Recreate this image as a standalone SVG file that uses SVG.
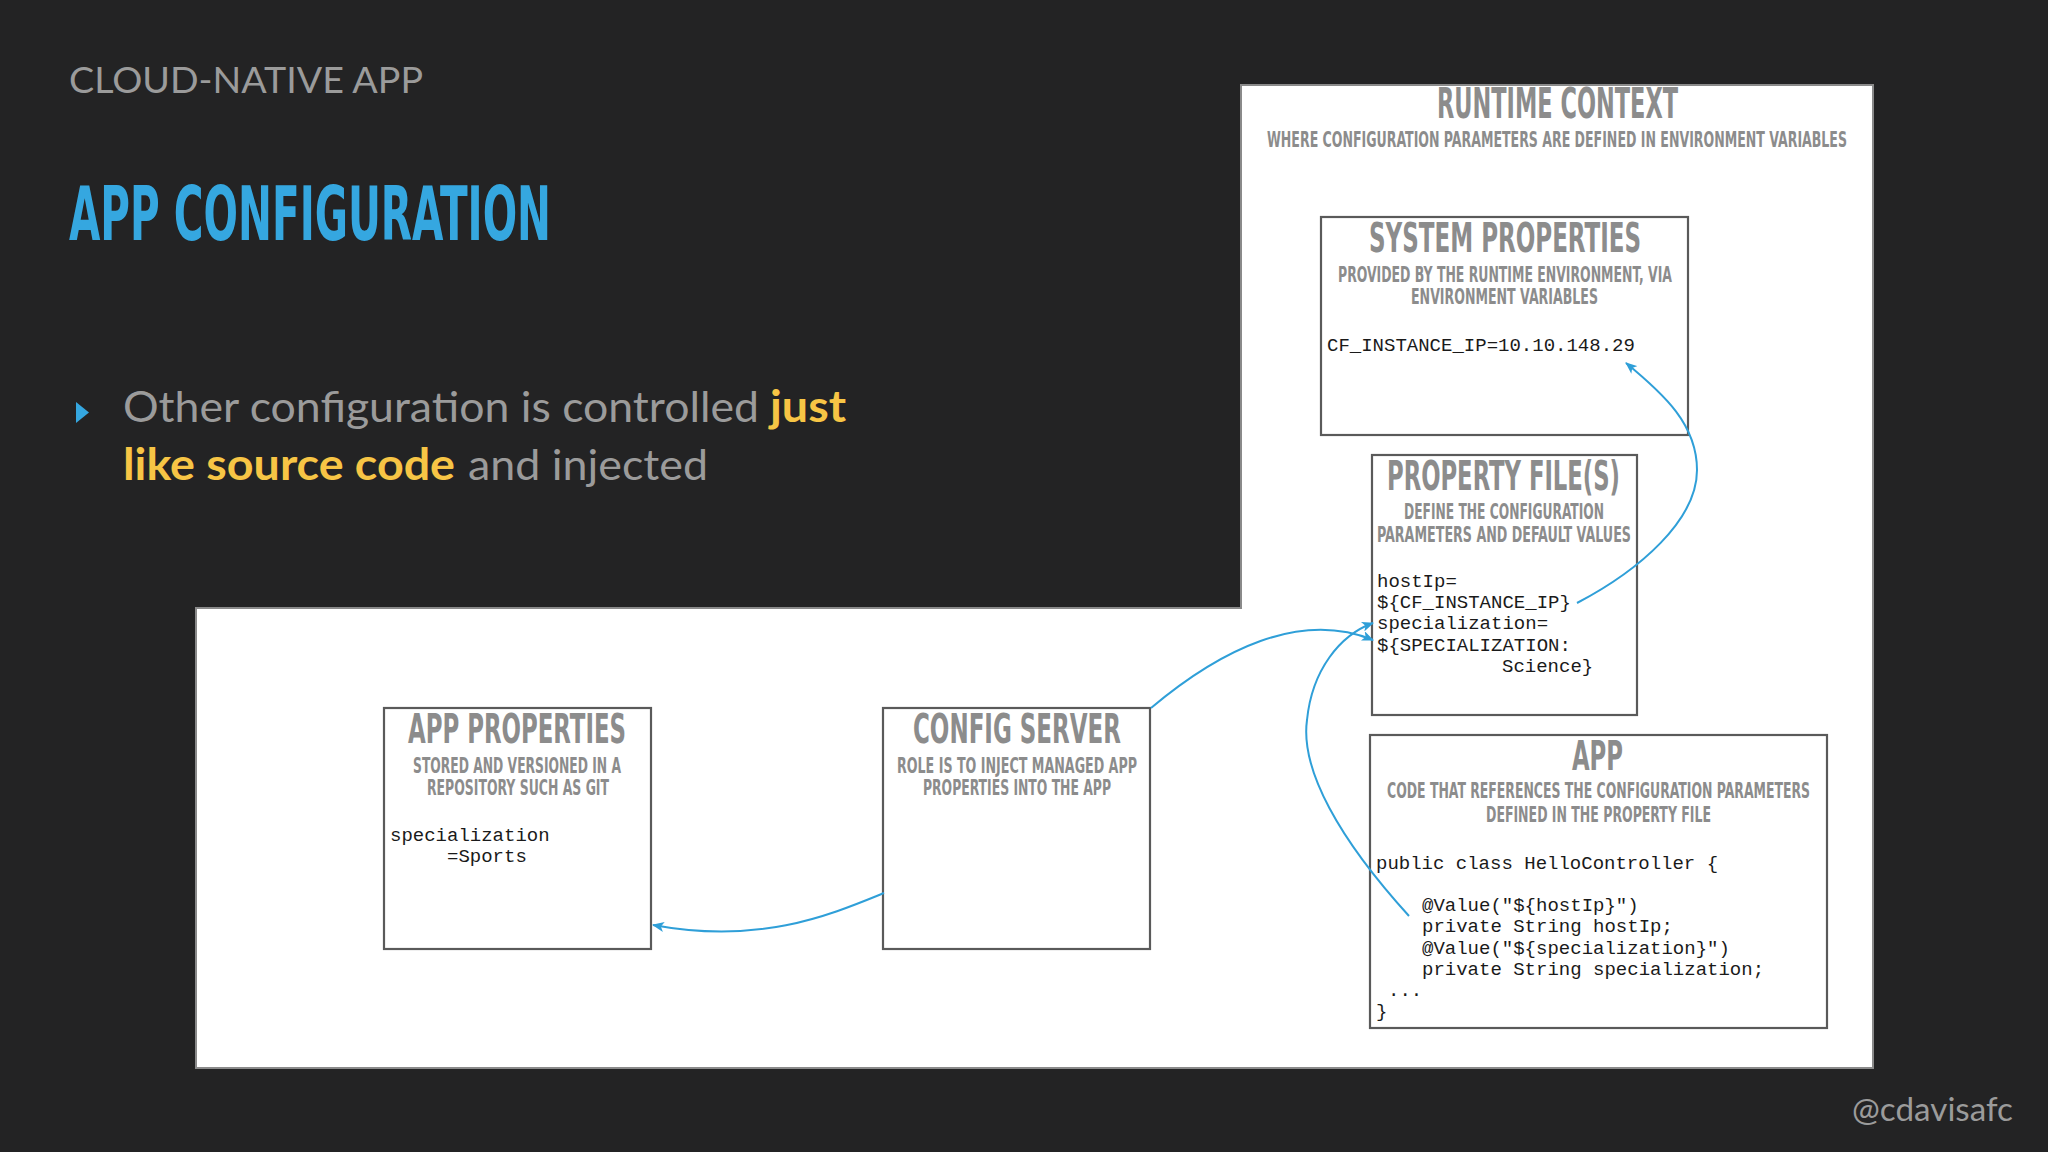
<svg xmlns="http://www.w3.org/2000/svg" width="2048" height="1152" viewBox="0 0 2048 1152">
<defs>
<style>
.bg{fill:#232324}
.panel{fill:#ffffff;stroke:#8a8a8a;stroke-width:2}
.box{fill:#ffffff;stroke:#5a5a5a;stroke-width:2.2}
.ttl{font-family:"DejaVu Sans Condensed","Liberation Sans Narrow","Liberation Sans",sans-serif;font-weight:bold;fill:#8c8c8c}
.t40{font-size:40px}
.sub{font-family:"DejaVu Sans Condensed","Liberation Sans Narrow","Liberation Sans",sans-serif;font-weight:bold;fill:#8c8c8c;font-size:21px}
.code{font-family:"Liberation Mono","Courier New",monospace;font-size:19px;fill:#1a1a1a}
.hd{font-family:Lato,"Open Sans",sans-serif;fill:#9b9b9b}
.conn{fill:none;stroke:#2f9fd8;stroke-width:2}
</style>
<marker id="arr" viewBox="0 0 12 10" refX="11" refY="5" markerWidth="12" markerHeight="10" markerUnits="userSpaceOnUse" orient="auto">
<path d="M0,0 L12,5 L0,10 L3,5 Z" fill="#2f9fd8"/>
</marker>
</defs>
<rect class="bg" x="0" y="0" width="2048" height="1152"/>

<g id="header">
<text class="hd" x="69" y="93" font-size="36" textLength="354" lengthAdjust="spacingAndGlyphs">CLOUD-NATIVE APP</text>
<text x="69" y="240" font-family="DejaVu Sans Condensed,Liberation Sans Narrow,Liberation Sans,sans-serif" font-weight="bold" font-size="75" fill="#35a7e0" textLength="482" lengthAdjust="spacingAndGlyphs">APP CONFIGURATION</text>
<path d="M76,402 L89,412.5 L76,423 Z" fill="#35a7e0"/>
<text class="hd" x="123" y="422" font-size="43" textLength="636" lengthAdjust="spacingAndGlyphs">Other configuration is controlled</text>
<text x="770" y="422" font-family="Lato,Open Sans,sans-serif" font-weight="bold" font-size="43" fill="#f7c545" textLength="76" lengthAdjust="spacingAndGlyphs">just</text>
<text x="123" y="480" font-family="Lato,Open Sans,sans-serif" font-weight="bold" font-size="43" fill="#f7c545" textLength="332" lengthAdjust="spacingAndGlyphs">like source code</text>
<text class="hd" x="468" y="480" font-size="43" textLength="240" lengthAdjust="spacingAndGlyphs">and injected</text>
<text class="hd" x="1852" y="1121" font-size="33" textLength="161" lengthAdjust="spacingAndGlyphs">@cdavisafc</text>
</g>

<g id="panels">
<path class="panel" d="M196,608 L1241,608 L1241,85 L1873,85 L1873,1068 L196,1068 Z"/>
</g>

<g id="runtime-context">
<text class="ttl" x="1437" y="118" font-size="42" textLength="241" lengthAdjust="spacingAndGlyphs">RUNTIME CONTEXT</text>
<text class="sub" x="1267" y="147" textLength="580" lengthAdjust="spacingAndGlyphs">WHERE CONFIGURATION PARAMETERS ARE DEFINED IN ENVIRONMENT VARIABLES</text>
</g>

<g id="system-properties">
<rect class="box" x="1321" y="217" width="367" height="218"/>
<text class="ttl t40" x="1369" y="252" textLength="272" lengthAdjust="spacingAndGlyphs">SYSTEM PROPERTIES</text>
<text class="sub" x="1338" y="282" textLength="334" lengthAdjust="spacingAndGlyphs">PROVIDED BY THE RUNTIME ENVIRONMENT, VIA</text>
<text class="sub" x="1411" y="304" textLength="187" lengthAdjust="spacingAndGlyphs">ENVIRONMENT VARIABLES</text>
<text class="code" x="1327" y="351">CF_INSTANCE_IP=10.10.148.29</text>
</g>

<g id="property-files">
<rect class="box" x="1372" y="455" width="265" height="260"/>
<text class="ttl t40" x="1387" y="490" textLength="233" lengthAdjust="spacingAndGlyphs">PROPERTY FILE(S)</text>
<text class="sub" x="1404" y="519" textLength="200" lengthAdjust="spacingAndGlyphs">DEFINE THE CONFIGURATION</text>
<text class="sub" x="1377" y="542" textLength="254" lengthAdjust="spacingAndGlyphs">PARAMETERS AND DEFAULT VALUES</text>
<text class="code" xml:space="preserve"><tspan x="1377" y="587">hostIp=</tspan><tspan x="1377" y="608">${CF_INSTANCE_IP}</tspan><tspan x="1377" y="629">specialization=</tspan><tspan x="1377" y="651">${SPECIALIZATION:</tspan><tspan x="1502" y="672">Science}</tspan></text>
</g>

<g id="app">
<rect class="box" x="1370" y="735" width="457" height="293"/>
<text class="ttl t40" x="1572" y="770" textLength="51" lengthAdjust="spacingAndGlyphs">APP</text>
<text class="sub" x="1387" y="798" textLength="423" lengthAdjust="spacingAndGlyphs">CODE THAT REFERENCES THE CONFIGURATION PARAMETERS</text>
<text class="sub" x="1486" y="822" textLength="225" lengthAdjust="spacingAndGlyphs">DEFINED IN THE PROPERTY FILE</text>
<text class="code"><tspan x="1376" y="869">public class HelloController {</tspan><tspan x="1422" y="911">@Value("${hostIp}")</tspan><tspan x="1422" y="932">private String hostIp;</tspan><tspan x="1422" y="954">@Value("${specialization}")</tspan><tspan x="1422" y="975">private String specialization;</tspan><tspan x="1388" y="996">...</tspan><tspan x="1376" y="1017">}</tspan></text>
</g>

<g id="app-properties">
<rect class="box" x="384" y="708" width="267" height="241"/>
<text class="ttl t40" x="408" y="743" textLength="218" lengthAdjust="spacingAndGlyphs">APP PROPERTIES</text>
<text class="sub" x="413" y="773" textLength="208" lengthAdjust="spacingAndGlyphs">STORED AND VERSIONED IN A</text>
<text class="sub" x="427" y="795" textLength="182" lengthAdjust="spacingAndGlyphs">REPOSITORY SUCH AS GIT</text>
<text class="code"><tspan x="390" y="841">specialization</tspan><tspan x="447" y="862">=Sports</tspan></text>
</g>

<g id="config-server">
<rect class="box" x="883" y="708" width="267" height="241"/>
<text class="ttl t40" x="913" y="743" textLength="208" lengthAdjust="spacingAndGlyphs">CONFIG SERVER</text>
<text class="sub" x="897" y="773" textLength="240" lengthAdjust="spacingAndGlyphs">ROLE IS TO INJECT MANAGED APP</text>
<text class="sub" x="923" y="795" textLength="188" lengthAdjust="spacingAndGlyphs">PROPERTIES INTO THE APP</text>
</g>

<g id="connectors">
<path class="conn" marker-end="url(#arr)" d="M884,893 C830,915 760,945 653,925"/>
<path class="conn" marker-end="url(#arr)" d="M1151,708 C1220,650 1300,610 1373,640"/>
<path class="conn" marker-end="url(#arr)" d="M1577,603 C1640,570 1697,520 1697,470 C1697,425 1665,395 1626,363"/>
<path class="conn" marker-end="url(#arr)" d="M1409,916 C1340,840 1300,770 1307,720 C1312,670 1340,635 1373,623"/>
</g>
</svg>
